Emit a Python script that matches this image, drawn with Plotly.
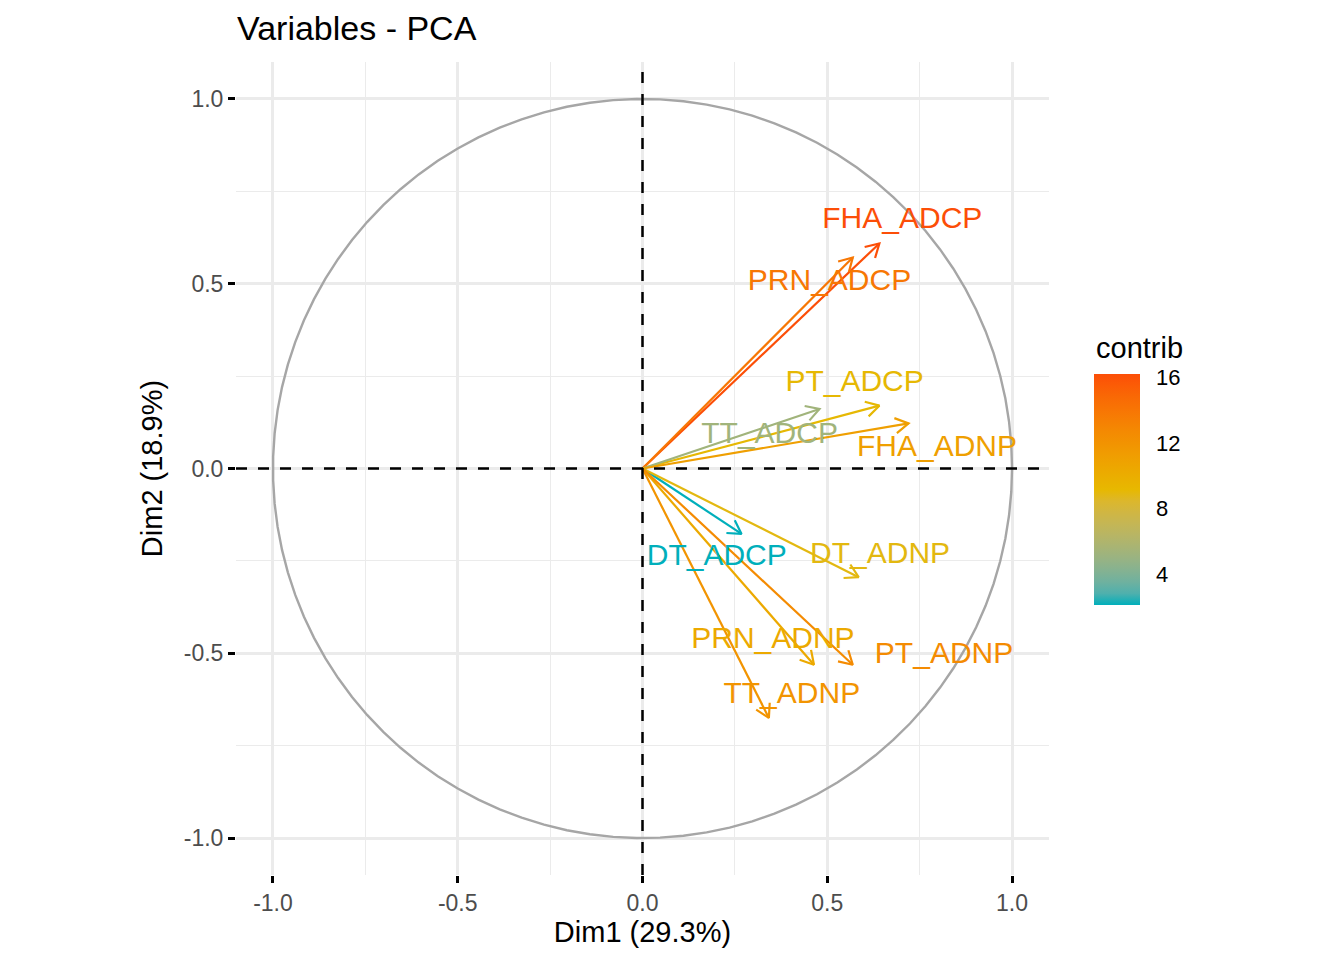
import numpy as np
import plotly.graph_objs as go
from plotly.colors import sample_colorscale

# variable coordinates on Dim1 / Dim2, contributions and label anchors
variables = ["FHA_ADCP", "PRN_ADCP", "PT_ADCP", "TT_ADCP", "FHA_ADNP",
             "DT_ADCP", "DT_ADNP", "PRN_ADNP", "PT_ADNP", "TT_ADNP"]
dim1 = [0.641, 0.569, 0.641, 0.479, 0.720, 0.268, 0.585, 0.464, 0.569, 0.342]
dim2 = [0.609, 0.571, 0.170, 0.161, 0.122, -0.177, -0.294, -0.531, -0.531, -0.675]
contrib = [16.2, 13.9, 9.1, 5.3, 11.1, 2.1, 8.9, 10.3, 12.6, 11.9]
label_x = [0.703, 0.506, 0.574, 0.344, 0.797, 0.201, 0.643, 0.353, 0.816, 0.404]
label_y = [0.670, 0.503, 0.230, 0.089, 0.054, -0.240, -0.235, -0.465, -0.505, -0.614]

tick_vals = [-1.0, -0.5, 0.0, 0.5, 1.0]
tick_text = ["-1.0", "-0.5", "0.0", "0.5", "1.0"]
minor_vals = [-0.75, -0.25, 0.25, 0.75]
cbar_ticks = [4, 8, 12, 16]

FONT = "Liberation Sans, Arial, sans-serif"
ANCHORS = ["#00AFBB", "#E7B800", "#FC4E07"]

# the page body has an 8px margin, so everything is placed 8px up/left
OFF = 8
# plot panel in page pixels
P_LEFT, P_RIGHT, P_TOP, P_BOTTOM = 236, 1049, 62, 875


def hex_to_lab(h):
    """"""
    rgb = np.array([int(h[i:i + 2], 16) for i in (1, 3, 5)]) / 255.0
    lin = np.where(rgb <= 0.04045, rgb / 12.92, ((rgb + 0.055) / 1.055) ** 2.4)
    m = np.array([[0.4124564, 0.3575761, 0.1804375],
                  [0.2126729, 0.7151522, 0.0721750],
                  [0.0193339, 0.1191920, 0.9503041]])
    xyz = m @ lin / np.array([0.95047, 1.0, 1.08883])
    f = np.where(xyz > 0.008856, np.cbrt(xyz), 7.787 * xyz + 16 / 116)
    return np.array([116 * f[1] - 16, 500 * (f[0] - f[1]), 200 * (f[1] - f[2])])


def lab_to_rgb(lab):
    """"""
    fy = (lab[0] + 16) / 116
    fx = fy + lab[1] / 500
    fz = fy - lab[2] / 200
    f = np.array([fx, fy, fz])
    xyz = np.where(f ** 3 > 0.008856, f ** 3, (f - 16 / 116) / 7.787)
    xyz = xyz * np.array([0.95047, 1.0, 1.08883])
    m = np.array([[3.2404542, -1.5371385, -0.4985314],
                  [-0.9692660, 1.8760108, 0.0415560],
                  [0.0556434, -0.2040259, 1.0572252]])
    lin = np.clip(m @ xyz, 0, 1)
    rgb = np.where(lin <= 0.0031308, 12.92 * lin, 1.055 * lin ** (1 / 2.4) - 0.055)
    r, g, b = np.round(np.clip(rgb, 0, 1) * 255).astype(int)
    return f"rgb({r},{g},{b})"


def px_x(px):
    """page pixel -> paper x"""
    return (px - P_LEFT) / (P_RIGHT - P_LEFT)


def px_y(py):
    """page pixel -> paper y"""
    return (P_BOTTOM - py) / (P_BOTTOM - P_TOP)


# gradient interpolated in Lab space, like ggplot's gradientn
labs = [hex_to_lab(c) for c in ANCHORS]
gradient = []
for s in np.linspace(0, 1, 21):
    if s <= 0.5:
        lab = labs[0] + (labs[1] - labs[0]) * (s / 0.5)
    else:
        lab = labs[1] + (labs[2] - labs[1]) * ((s - 0.5) / 0.5)
    gradient.append([float(s), lab_to_rgb(lab)])

cmin, cmax = min(contrib), max(contrib)
norm = [(c - cmin) / (cmax - cmin) for c in contrib]
colors = sample_colorscale(gradient, norm)

traces = []

# correlation circle
t = np.linspace(0, 2 * np.pi, 100)
traces.append(go.Scatter(
    x=np.cos(t), y=np.sin(t), mode="lines",
    line=dict(color="#A6A6A6", width=2.4),
    hoverinfo="skip", showlegend=False
))

# arrows: shaft plus an open head (30 deg, ~15px)
head_len = 0.041
for xe, ye, col in zip(dim1, dim2, colors):
    ang = np.arctan2(ye, xe)
    b1 = (xe + head_len * np.cos(ang + np.pi - np.pi / 6),
          ye + head_len * np.sin(ang + np.pi - np.pi / 6))
    b2 = (xe + head_len * np.cos(ang + np.pi + np.pi / 6),
          ye + head_len * np.sin(ang + np.pi + np.pi / 6))
    traces.append(go.Scatter(
        x=[0, xe, None, b1[0], xe, b2[0]],
        y=[0, ye, None, b1[1], ye, b2[1]],
        mode="lines", line=dict(color=col, width=2.2),
        hoverinfo="skip", showlegend=False
    ))

traces.append(go.Scatter(
    x=label_x, y=label_y, mode="text", text=variables,
    textposition="middle center",
    textfont=dict(family=FONT, size=30, color=colors),
    hoverinfo="skip", showlegend=False
))

# dummy trace just for the colour bar
traces.append(go.Scatter(
    x=[None], y=[None], mode="markers",
    marker=dict(
        color=[cmin, cmax], colorscale=gradient, cmin=cmin, cmax=cmax,
        showscale=True,
        colorbar=dict(
            xref="paper", x=px_x(1094), xanchor="left",
            yref="paper", y=px_y(605), yanchor="bottom",
            len=231, lenmode="pixels", thickness=46, thicknessmode="pixels",
            outlinewidth=0, xpad=0, ypad=0,
            tickvals=cbar_ticks, ticks="outside", ticklen=12,
            tickcolor="rgba(0,0,0,0)",
            tickfont=dict(family=FONT, size=22, color="#000000")
        )
    ),
    hoverinfo="skip", showlegend=False
))

axis_common = dict(
    range=[-1.1, 1.1], tickvals=tick_vals, ticktext=tick_text,
    showgrid=True, gridcolor="#EBEBEB", gridwidth=2.5,
    minor=dict(tickvals=minor_vals, showgrid=True, gridcolor="#EBEBEB",
               gridwidth=1.3),
    zeroline=False, showline=False,
    ticks="outside", ticklen=7, tickwidth=2.5, tickcolor="#000000",
    tickfont=dict(family=FONT, size=23, color="#4D4D4D"),
    fixedrange=True
)

layout = go.Layout(
    width=1344, height=960,
    margin=dict(l=P_LEFT - OFF, r=1344 - P_RIGHT + OFF,
                t=P_TOP - OFF, b=960 - P_BOTTOM + OFF),
    paper_bgcolor="white", plot_bgcolor="white",
    title=dict(text="Variables - PCA", x=(237 - OFF) / 1344, xanchor="left",
               y=1 - (28 - OFF) / 960, yanchor="middle",
               font=dict(family=FONT, size=34, color="#000000")),
    xaxis=dict(axis_common,
               title=dict(text="Dim1 (29.3%)", standoff=6,
                          font=dict(family=FONT, size=29, color="#000000"))),
    yaxis=dict(axis_common,
               title=dict(text="Dim2 (18.9%)", standoff=12,
                          font=dict(family=FONT, size=29, color="#000000"))),
    shapes=[
        dict(type="line", xref="x domain", yref="y", x0=0, x1=1, y0=0, y1=0,
             line=dict(color="black", width=2.5, dash="11px,11px"), layer="above"),
        dict(type="line", xref="x", yref="y domain", x0=0, x1=0, y0=0, y1=1,
             line=dict(color="black", width=2.5, dash="11px,11px"), layer="above"),
    ],
    annotations=[
        dict(text="contrib", xref="paper", yref="paper",
             x=px_x(1094), y=px_y(348),
             xanchor="left", yanchor="middle", showarrow=False,
             font=dict(family=FONT, size=29, color="#000000")),
    ],
    showlegend=False
)

fig = go.Figure(data=traces, layout=layout)
fig.write_html("out.html")
